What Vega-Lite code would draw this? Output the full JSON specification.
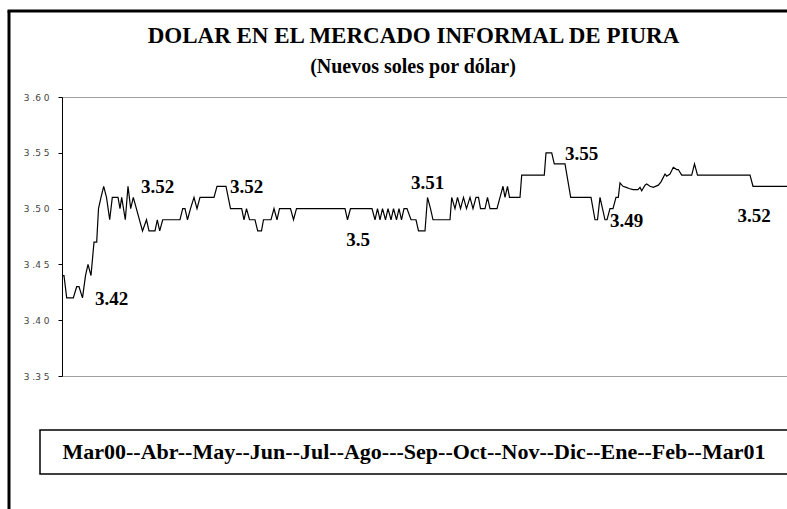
{
  "$schema": "https://vega.github.io/schema/vega-lite/v6.json",
  "width": 730,
  "height": 279,
  "autosize": {"type": "none"},
  "padding": {"left": 62, "top": 97, "right": 0, "bottom": 133},
  "background": "white",
  "config": {"view": {"stroke": "#a0a0a0", "strokeWidth": 1}},
  "datasets": {
    "rate": [
      {"d": 0, "v": 3.44}, {"d": 2, "v": 3.44}, {"d": 4.7, "v": 3.42}, {"d": 11.3, "v": 3.42},
      {"d": 14.7, "v": 3.43}, {"d": 17, "v": 3.43}, {"d": 20.5, "v": 3.42}, {"d": 23.5, "v": 3.44},
      {"d": 26, "v": 3.45}, {"d": 29, "v": 3.44}, {"d": 32, "v": 3.47}, {"d": 34.7, "v": 3.47},
      {"d": 36.5, "v": 3.50}, {"d": 39, "v": 3.51}, {"d": 41.7, "v": 3.52}, {"d": 44.5, "v": 3.51},
      {"d": 47.7, "v": 3.49}, {"d": 50.3, "v": 3.51}, {"d": 56, "v": 3.51}, {"d": 58, "v": 3.50},
      {"d": 59.7, "v": 3.51}, {"d": 63.3, "v": 3.49}, {"d": 66, "v": 3.52}, {"d": 68.7, "v": 3.50},
      {"d": 71.3, "v": 3.51}, {"d": 80.5, "v": 3.48}, {"d": 84.5, "v": 3.49}, {"d": 87, "v": 3.48},
      {"d": 93, "v": 3.48}, {"d": 95.3, "v": 3.49}, {"d": 97.7, "v": 3.48}, {"d": 100.7, "v": 3.49},
      {"d": 118, "v": 3.49}, {"d": 120.7, "v": 3.50}, {"d": 123, "v": 3.50}, {"d": 125.5, "v": 3.49},
      {"d": 128.5, "v": 3.50}, {"d": 132, "v": 3.51}, {"d": 135, "v": 3.50}, {"d": 138, "v": 3.51},
      {"d": 152, "v": 3.51}, {"d": 155, "v": 3.52}, {"d": 164, "v": 3.52}, {"d": 168.5, "v": 3.50},
      {"d": 179.7, "v": 3.50}, {"d": 182, "v": 3.49}, {"d": 184.5, "v": 3.50}, {"d": 187.5, "v": 3.49},
      {"d": 193, "v": 3.49}, {"d": 195.7, "v": 3.48}, {"d": 199.5, "v": 3.48}, {"d": 201.5, "v": 3.49},
      {"d": 209, "v": 3.49}, {"d": 212, "v": 3.50}, {"d": 215, "v": 3.49}, {"d": 217.5, "v": 3.50},
      {"d": 228.5, "v": 3.50}, {"d": 231.5, "v": 3.49}, {"d": 234.5, "v": 3.50}, {"d": 283, "v": 3.50},
      {"d": 285.5, "v": 3.49}, {"d": 288.5, "v": 3.50}, {"d": 310, "v": 3.50}, {"d": 313, "v": 3.49},
      {"d": 315.5, "v": 3.50}, {"d": 318, "v": 3.49}, {"d": 320.5, "v": 3.50}, {"d": 323.5, "v": 3.49},
      {"d": 326, "v": 3.50}, {"d": 329, "v": 3.49}, {"d": 331.5, "v": 3.50}, {"d": 334.5, "v": 3.49},
      {"d": 337, "v": 3.50}, {"d": 339.5, "v": 3.49}, {"d": 342, "v": 3.50}, {"d": 345, "v": 3.50},
      {"d": 349, "v": 3.49}, {"d": 354, "v": 3.49}, {"d": 356.5, "v": 3.48}, {"d": 363, "v": 3.48},
      {"d": 365.5, "v": 3.51}, {"d": 368.5, "v": 3.50}, {"d": 371, "v": 3.49}, {"d": 388, "v": 3.49},
      {"d": 389.7, "v": 3.51}, {"d": 393, "v": 3.50}, {"d": 395.5, "v": 3.51}, {"d": 398.5, "v": 3.50},
      {"d": 401.5, "v": 3.51}, {"d": 404.5, "v": 3.50}, {"d": 408, "v": 3.51}, {"d": 411, "v": 3.50},
      {"d": 414, "v": 3.51}, {"d": 416.5, "v": 3.51}, {"d": 418.5, "v": 3.50}, {"d": 423, "v": 3.50},
      {"d": 425.5, "v": 3.51}, {"d": 428, "v": 3.50}, {"d": 435, "v": 3.50}, {"d": 438, "v": 3.51},
      {"d": 441, "v": 3.52}, {"d": 443, "v": 3.51}, {"d": 445.5, "v": 3.52}, {"d": 447.5, "v": 3.51},
      {"d": 458, "v": 3.51}, {"d": 459.7, "v": 3.53}, {"d": 482.3, "v": 3.53}, {"d": 484, "v": 3.55},
      {"d": 489.7, "v": 3.55}, {"d": 492.3, "v": 3.54}, {"d": 503, "v": 3.54}, {"d": 508.7, "v": 3.51},
      {"d": 529, "v": 3.51}, {"d": 533, "v": 3.49}, {"d": 535.5, "v": 3.49}, {"d": 538, "v": 3.51},
      {"d": 543, "v": 3.49}, {"d": 545, "v": 3.49}, {"d": 546.5, "v": 3.495}, {"d": 548, "v": 3.50},
      {"d": 551, "v": 3.50}, {"d": 554, "v": 3.51}, {"d": 556.3, "v": 3.51}, {"d": 558, "v": 3.523},
      {"d": 561, "v": 3.52}, {"d": 564.3, "v": 3.519}, {"d": 567, "v": 3.518}, {"d": 571, "v": 3.517},
      {"d": 576, "v": 3.517}, {"d": 578, "v": 3.519}, {"d": 579.7, "v": 3.516}, {"d": 583, "v": 3.521},
      {"d": 584.7, "v": 3.522}, {"d": 588, "v": 3.52}, {"d": 591.3, "v": 3.519}, {"d": 596.3, "v": 3.521},
      {"d": 599, "v": 3.524}, {"d": 601.3, "v": 3.528}, {"d": 603, "v": 3.531}, {"d": 604.7, "v": 3.529},
      {"d": 608, "v": 3.531}, {"d": 611.3, "v": 3.537}, {"d": 614.7, "v": 3.535}, {"d": 616.3, "v": 3.535},
      {"d": 619.7, "v": 3.53}, {"d": 629.7, "v": 3.53}, {"d": 632.5, "v": 3.54}, {"d": 635.5, "v": 3.53},
      {"d": 688, "v": 3.53}, {"d": 691, "v": 3.52}, {"d": 725, "v": 3.52}
    ],
    "labels": [
      {"d": 49.5, "v": 3.419, "t": "3.42"},
      {"d": 95.5, "v": 3.519, "t": "3.52"},
      {"d": 184.5, "v": 3.519, "t": "3.52"},
      {"d": 296, "v": 3.472, "t": "3.5"},
      {"d": 365.5, "v": 3.523, "t": "3.51"},
      {"d": 519.7, "v": 3.549, "t": "3.55"},
      {"d": 564.7, "v": 3.489, "t": "3.49"},
      {"d": 692, "v": 3.493, "t": "3.52"}
    ],
    "titles": [
      {"d": 351.5, "v": 3.6484, "t": "DOLAR EN EL MERCADO INFORMAL DE PIURA", "s": "title"},
      {"d": 351, "v": 3.6215, "t": "(Nuevos soles por dólar)", "s": "subtitle"}
    ]
  },
  "layer": [
    {
      "data": {"name": "rate"},
      "mark": {"type": "line", "color": "black", "strokeWidth": 1.2},
      "encoding": {
        "x": {"field": "d", "type": "quantitative", "scale": {"domain": [0, 730], "nice": false, "zero": false}, "axis": null},
        "y": {
          "field": "v", "type": "quantitative",
          "scale": {"domain": [3.35, 3.6], "nice": false, "zero": false},
          "axis": {
            "values": [3.35, 3.4, 3.45, 3.5, 3.55, 3.6],
            "title": null, "grid": false,
            "domainColor": "black", "tickColor": "black", "tickSize": 4,
            "labelFont": "DejaVu Sans", "labelFontSize": 9, "labelColor": "#444",
            "labelPadding": 9,
            "labelExpr": "substring(format(datum.value,'.2f'),0,1) + ' .' + substring(format(datum.value,'.2f'),2,3) + ' ' + substring(format(datum.value,'.2f'),3,4)"
          }
        }
      }
    },
    {
      "data": {"name": "labels"},
      "mark": {"type": "text", "font": "Liberation Serif", "fontSize": 19, "fontWeight": "bold", "color": "black", "baseline": "middle", "align": "center"},
      "encoding": {
        "x": {"field": "d", "type": "quantitative"},
        "y": {"field": "v", "type": "quantitative"},
        "text": {"field": "t"}
      }
    },
    {
      "data": {"name": "titles"},
      "transform": [{"filter": "datum.s == 'title'"}],
      "mark": {"type": "text", "font": "Liberation Serif", "fontSize": 23, "fontWeight": "bold", "color": "black", "baseline": "alphabetic", "align": "center"},
      "encoding": {
        "x": {"field": "d", "type": "quantitative"},
        "y": {"field": "v", "type": "quantitative"},
        "text": {"field": "t"}
      }
    },
    {
      "data": {"name": "titles"},
      "transform": [{"filter": "datum.s == 'subtitle'"}],
      "mark": {"type": "text", "font": "Liberation Serif", "fontSize": 20, "fontWeight": "bold", "color": "black", "baseline": "alphabetic", "align": "center"},
      "encoding": {
        "x": {"field": "d", "type": "quantitative"},
        "y": {"field": "v", "type": "quantitative"},
        "text": {"field": "t"}
      }
    },
    {
      "data": {"values": [{}]},
      "mark": {"type": "rule", "color": "black", "strokeWidth": 3},
      "encoding": {
        "x": {"datum": -53, "type": "quantitative"},
        "y": {"datum": 3.677, "type": "quantitative"},
        "y2": {"datum": 3.2}
      }
    },
    {
      "data": {"values": [{}]},
      "mark": {"type": "rule", "color": "black", "strokeWidth": 3},
      "encoding": {
        "x": {"datum": -54.5, "type": "quantitative"},
        "x2": {"datum": 770},
        "y": {"datum": 3.677, "type": "quantitative"}
      }
    },
    {
      "data": {"values": [{}]},
      "mark": {"type": "rect", "fillOpacity": 0, "stroke": "black", "strokeWidth": 1.5},
      "encoding": {
        "x": {"datum": -22, "type": "quantitative"},
        "x2": {"datum": 770},
        "y": {"datum": 3.3016, "type": "quantitative"},
        "y2": {"datum": 3.2622}
      }
    },
    {
      "data": {"values": [{}]},
      "mark": {"type": "text", "text": "Mar00--Abr--May--Jun--Jul--Ago---Sep--Oct--Nov--Dic--Ene--Feb--Mar01", "font": "Liberation Serif", "fontSize": 22, "fontWeight": "bold", "color": "black", "align": "center", "baseline": "middle"},
      "encoding": {
        "x": {"datum": 352, "type": "quantitative"},
        "y": {"datum": 3.2819, "type": "quantitative"}
      }
    }
  ]
}
